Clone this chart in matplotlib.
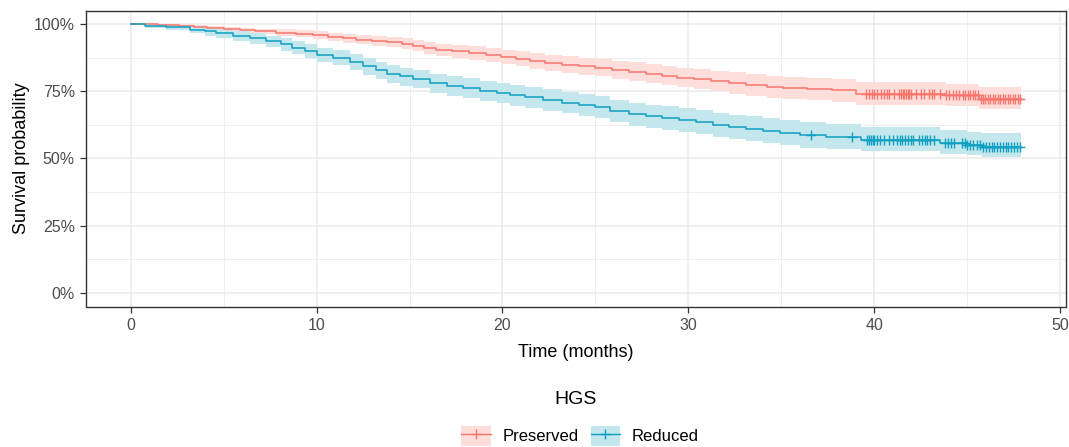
import numpy as np
import matplotlib.pyplot as plt
from matplotlib.patches import Patch
from matplotlib.lines import Line2D
from matplotlib.ticker import MultipleLocator, PercentFormatter

plt.rcParams['font.family'] = ['Liberation Sans', 'DejaVu Sans']

# Kaplan-Meier steps (time in months, survival, CI)
pres_time = [0, 1.5, 2.6, 3.4, 4.1, 5.0, 5.9, 6.7, 7.8, 8.9, 9.8, 10.6, 11.4, 12.1, 13.0,
             13.8, 14.6, 15.2, 15.8, 16.4, 17.3, 18.2, 19.1, 19.9, 20.7, 21.5, 22.3, 23.2,
             24.1, 25.0, 25.9, 26.8, 27.7, 28.6, 29.4, 30.3, 31.2, 32.2, 33.1, 34.2, 35.1,
             36.4, 37.7, 39.0, 43.85, 45.6]
pres_surv = [1.000, 0.997, 0.994, 0.989, 0.985, 0.981, 0.976, 0.972, 0.968, 0.963, 0.958,
             0.953, 0.947, 0.942, 0.937, 0.932, 0.926, 0.919, 0.912, 0.904, 0.898, 0.892,
             0.885, 0.878, 0.870, 0.863, 0.856, 0.849, 0.843, 0.837, 0.830, 0.823, 0.815,
             0.808, 0.801, 0.795, 0.788, 0.780, 0.772, 0.767, 0.762, 0.758, 0.753, 0.741,
             0.735, 0.722]
pres_upper = [1.000, 1.000, 0.999, 0.996, 0.993, 0.990, 0.986, 0.983, 0.980, 0.976, 0.972,
              0.968, 0.963, 0.959, 0.955, 0.951, 0.946, 0.940, 0.934, 0.927, 0.922, 0.917,
              0.911, 0.905, 0.898, 0.892, 0.886, 0.880, 0.875, 0.869, 0.863, 0.857, 0.850,
              0.844, 0.838, 0.833, 0.827, 0.820, 0.813, 0.808, 0.804, 0.800, 0.796, 0.784,
              0.778, 0.766]
pres_lower = [1.000, 0.993, 0.988, 0.982, 0.977, 0.972, 0.966, 0.961, 0.956, 0.950, 0.944,
              0.938, 0.931, 0.925, 0.919, 0.913, 0.906, 0.898, 0.890, 0.881, 0.874, 0.867,
              0.859, 0.851, 0.842, 0.834, 0.826, 0.818, 0.811, 0.805, 0.797, 0.789, 0.780,
              0.772, 0.764, 0.757, 0.749, 0.740, 0.731, 0.726, 0.720, 0.716, 0.710, 0.698,
              0.695, 0.684]
pres_censor = [39.55, 39.7, 39.87, 40.0, 40.12, 40.36, 40.54, 40.68, 40.8, 41.04, 41.34,
               41.43, 41.52, 41.6, 41.7, 41.8, 41.88, 41.97, 42.24, 42.5, 42.69, 42.96, 43.1,
               43.2, 43.5, 43.86, 44.03, 44.2, 44.39, 44.57, 44.75, 44.89, 45.02, 45.14,
               45.28, 45.43, 45.55, 45.73, 45.82, 45.96, 46.09, 46.21, 46.36, 46.5, 46.63,
               46.75, 46.9, 47.04, 47.16, 47.29, 47.43, 47.58, 47.7, 47.83]

red_time = [0, 0.8, 1.9, 3.2, 4.0, 4.6, 5.5, 6.4, 7.3, 8.1, 8.7, 9.4, 10.0, 10.9, 11.8, 12.5,
            13.2, 13.8, 14.5, 15.2, 16.1, 17.0, 17.9, 18.8, 19.7, 20.4, 21.2, 22.2, 23.2,
            24.1, 25.0, 25.8, 26.8, 27.7, 28.6, 29.5, 30.4, 31.3, 32.2, 33.1, 34.0, 34.9,
            36.0, 37.4, 39.3, 43.5, 45.0, 45.8]
red_surv = [1.000, 0.994, 0.987, 0.978, 0.972, 0.965, 0.955, 0.946, 0.936, 0.924, 0.912,
            0.900, 0.885, 0.875, 0.860, 0.842, 0.828, 0.815, 0.805, 0.796, 0.780, 0.770,
            0.762, 0.752, 0.744, 0.735, 0.728, 0.718, 0.708, 0.699, 0.690, 0.678, 0.665,
            0.657, 0.651, 0.642, 0.635, 0.625, 0.618, 0.611, 0.604, 0.596, 0.588, 0.580,
            0.570, 0.556, 0.549, 0.543]
red_upper = [1.000, 1.000, 0.997, 0.991, 0.987, 0.981, 0.973, 0.965, 0.957, 0.946, 0.935,
             0.925, 0.911, 0.902, 0.888, 0.872, 0.859, 0.847, 0.838, 0.830, 0.815, 0.806,
             0.798, 0.789, 0.781, 0.773, 0.766, 0.757, 0.747, 0.739, 0.731, 0.719, 0.707,
             0.700, 0.694, 0.686, 0.679, 0.670, 0.663, 0.657, 0.650, 0.643, 0.635, 0.628,
             0.618, 0.605, 0.598, 0.593]
red_lower = [1.000, 0.986, 0.976, 0.965, 0.957, 0.949, 0.937, 0.926, 0.915, 0.901, 0.888,
             0.875, 0.858, 0.847, 0.830, 0.811, 0.796, 0.782, 0.771, 0.761, 0.744, 0.733,
             0.724, 0.714, 0.705, 0.696, 0.689, 0.678, 0.668, 0.658, 0.649, 0.636, 0.622,
             0.614, 0.607, 0.598, 0.590, 0.580, 0.572, 0.565, 0.557, 0.549, 0.540, 0.536,
             0.528, 0.518, 0.512, 0.506]
red_censor = [36.6, 38.8, 39.6, 39.7, 39.8, 39.9, 40.0, 40.15, 40.3, 40.5, 40.8, 41.0, 41.2,
              41.35, 41.5, 41.65, 41.8, 41.95, 42.1, 42.4, 42.55, 42.7, 42.85, 43.0, 43.2,
              43.8, 43.95, 44.1, 44.3, 44.7, 44.85, 45.0, 45.15, 45.3, 45.5, 45.7, 45.85,
              46.0, 46.15, 46.3, 46.45, 46.6, 46.75, 46.9, 47.05, 47.2, 47.35, 47.5, 47.65,
              47.8]

end_time = 47.9
groups = ['Preserved', 'Reduced']
colors = ['#F8766D', '#0EA0C3']
fills = ['#FDDEDB', '#C3E7EC']

fig = plt.figure(figsize=(10.69, 4.47), dpi=100)
W, H = 1069, 447
ax = fig.add_axes([86 / W, 1 - 306.5 / H, (1066 - 86) / W, (306.5 - 10.5) / H])

series = [(pres_time, pres_surv, pres_upper, pres_lower, pres_censor),
          (red_time, red_surv, red_upper, red_lower, red_censor)]

for (t, s, up, lo, cens), col, fc in zip(series, colors, fills):
    t = np.append(t, end_time)
    s = np.append(s, s[-1])
    up = np.append(up, up[-1])
    lo = np.append(lo, lo[-1])
    ax.fill_between(t, lo, up, step='post', color=fc, lw=0, zorder=2)
    ax.step(t, s, where='post', color=col, lw=1.1, zorder=3)
    idx = np.searchsorted(t, cens, side='right') - 1
    ax.plot(cens, s[idx], ls='none', marker='+', ms=7, mew=1.0, color=col, zorder=4)

ax.set_xlim(-2.395, 50.3)
ax.set_ylim(-0.05, 1.05)
ax.xaxis.set_major_locator(MultipleLocator(10))
ax.xaxis.set_minor_locator(MultipleLocator(5))
ax.yaxis.set_major_locator(MultipleLocator(0.25))
ax.yaxis.set_minor_locator(MultipleLocator(0.125))
ax.yaxis.set_major_formatter(PercentFormatter(1.0, decimals=0))
ax.grid(which='major', color='#EBEBEB', lw=1.1, zorder=0)
ax.grid(which='minor', color='#EBEBEB', lw=0.6, zorder=0)
ax.set_axisbelow(True)
for sp in ax.spines.values():
    sp.set_color('#333333')
    sp.set_linewidth(1.0)
ax.tick_params(which='major', length=4, width=0.9, color='#333333',
               labelsize=11.5, labelcolor='#4D4D4D', pad=4)
ax.tick_params(which='minor', length=0)

ax.set_xlabel('Time (months)', fontsize=13, color='black', labelpad=8)
ax.set_ylabel('Survival probability', fontsize=13, color='black', labelpad=3)

fig.text(576 / W, 1 - 400 / H, 'HGS', ha='center', va='center', fontsize=14)
handles = [(Patch(facecolor=fc, edgecolor='none'),
            Line2D([], [], color=col, lw=1.0, marker='+', ms=7, mew=1.0))
           for col, fc in zip(colors, fills)]
leg = fig.legend(handles, groups, loc='center',
                 bbox_to_anchor=(580 / W, 1 - 436 / H), ncol=2, frameon=False,
                 fontsize=12, handlelength=1.75, handleheight=1.55,
                 handletextpad=0.7, columnspacing=0.75, borderaxespad=0, borderpad=0)

fig.savefig('out.png', dpi=100)
